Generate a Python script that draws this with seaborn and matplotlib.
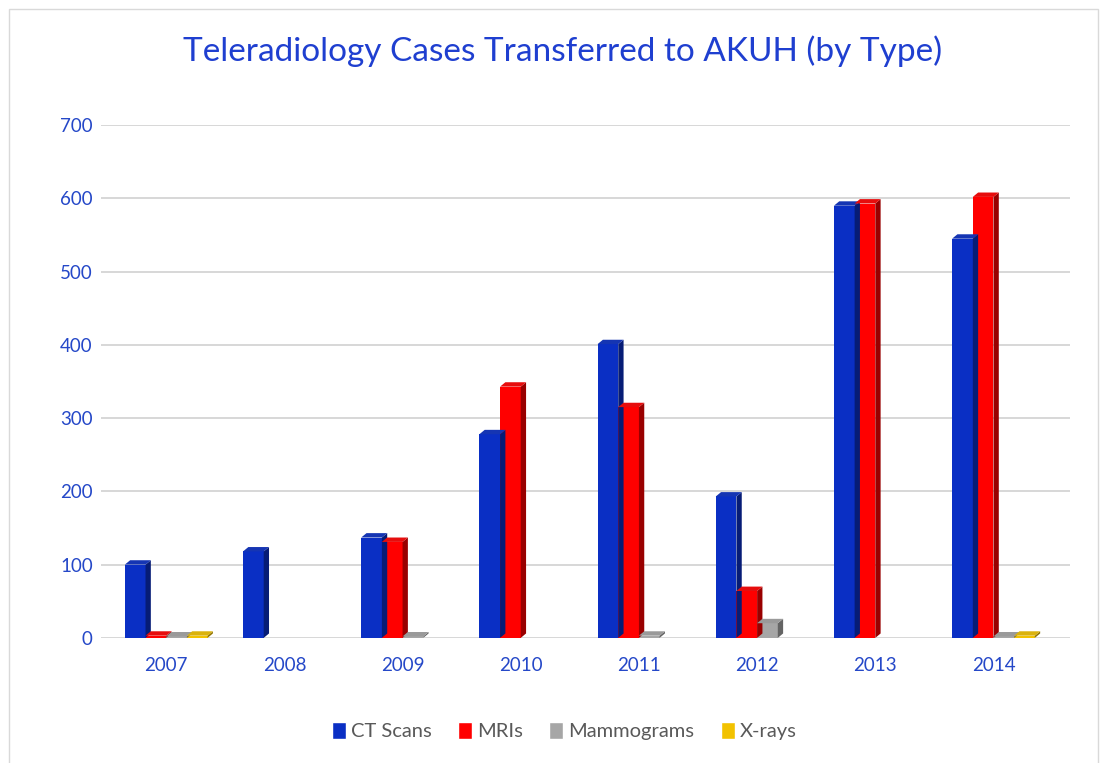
import numpy as np
import pandas as pd
import matplotlib
matplotlib.use("Agg")
import matplotlib.pyplot as plt
import seaborn as sns
from matplotlib.patches import Polygon, Rectangle
import matplotlib.colors as mcolors

# Cases transferred per year, by imaging type
years = ["2007", "2008", "2009", "2010", "2011", "2012", "2013", "2014"]
ct_scans = [100, 118, 137, 278, 401, 193, 590, 545]
mris = [3, 0, 131, 343, 315, 64, 593, 602]
mammograms = [2, 0, 2, 0, 3, 20, 0, 2]
xrays = [3, 0, 0, 0, 0, 0, 0, 3]
series_names = ["CT Scans", "MRIs", "Mammograms", "X-rays"]
series_colors = ["#0a2fc4", "#ff0000", "#a6a6a6", "#f2c200"]
y_ticks = [0, 100, 200, 300, 400, 500, 600, 700]

df = pd.DataFrame({
    "Year": years * 4,
    "Type": sum([[n] * len(years) for n in series_names], []),
    "Cases": ct_scans + mris + mammograms + xrays,
})

sns.set_theme(style="white")
plt.rcParams["font.family"] = ["Lato", "DejaVu Sans"]

fig = plt.figure(figsize=(11, 7.63), dpi=100)
ax = fig.add_axes([0.092, 0.164, 0.881, 0.672])

sns.barplot(data=df, x="Year", y="Cases", hue="Type", hue_order=series_names,
            palette=series_colors, width=0.7, saturation=1, ax=ax,
            legend=False, linewidth=0, zorder=3)

# give each column a shaded side and top face for a raised look
dx, dy = 0.045, 6
for patch in ax.patches:
    h = patch.get_height()
    if h <= 0:
        continue
    x0 = patch.get_x()
    x1 = x0 + patch.get_width()
    base = mcolors.to_rgb(patch.get_facecolor())
    side = tuple(c * 0.6 for c in base)
    top = tuple(min(1, c * 0.85 + 0.05) for c in base)
    ax.add_patch(Polygon([(x1, 0), (x1 + dx, dy), (x1 + dx, h + dy), (x1, h)],
                         closed=True, facecolor=side, edgecolor="none", zorder=3))
    ax.add_patch(Polygon([(x0, h), (x0 + dx, h + dy), (x1 + dx, h + dy), (x1, h)],
                         closed=True, facecolor=top, edgecolor="none", zorder=3))

ax.set_ylim(0, 700)
ax.set_xlim(-0.55, 7.65)
ax.set_yticks(y_ticks)
ax.yaxis.grid(True, color="#d4d4d4", linewidth=1.3, zorder=0)
ax.xaxis.grid(False)
for s in ax.spines.values():
    s.set_visible(False)
ax.set_xlabel("")
ax.set_ylabel("")
tick_blue = "#2548c8"
ax.tick_params(axis="y", colors=tick_blue, labelsize=13.5, length=0, pad=6)
ax.tick_params(axis="x", colors=tick_blue, labelsize=13.5, length=0, pad=14)

fig.suptitle("Teleradiology Cases Transferred to AKUH (by Type)",
             x=0.511, y=0.953, fontsize=24, color="#1f3fd0")

handles = [Rectangle((0, 0), 1, 1, facecolor=c) for c in series_colors]
leg = fig.legend(handles, series_names, loc="center", bbox_to_anchor=(0.513, 0.042),
                 ncol=4, frameon=False, fontsize=14.5, handlelength=0.7,
                 handleheight=0.9, handletextpad=0.25, columnspacing=1.3)
for t in leg.get_texts():
    t.set_color("#595959")

# thin frame round the chart area
fig.add_artist(Rectangle((0.008, -0.01), 0.99, 0.998, transform=fig.transFigure,
                         fill=False, edgecolor="#d9d9d9", linewidth=1))

fig.savefig("out.png", dpi=100)
